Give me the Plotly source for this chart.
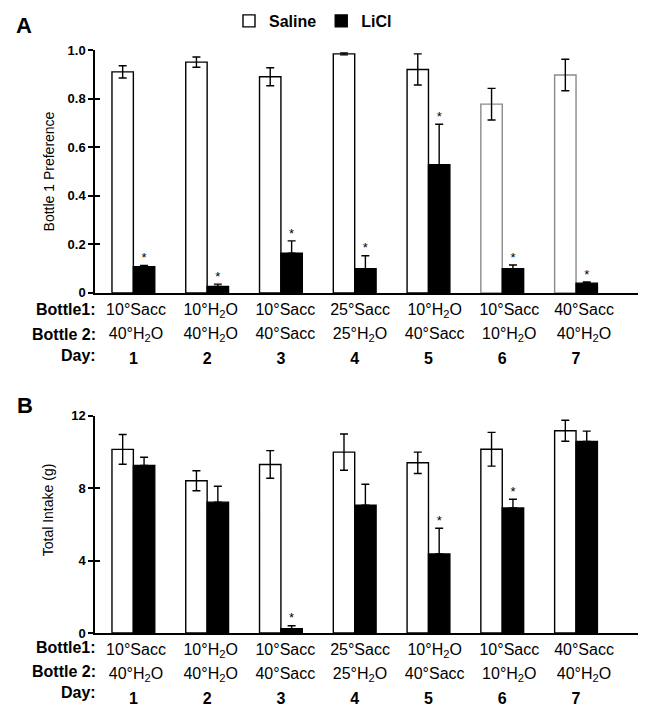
import plotly.graph_objects as go

# ---------------- data ----------------
days = ["1", "2", "3", "4", "5", "6", "7"]
bottle1 = ["10°Sacc", "10°H<sub>2</sub>O", "10°Sacc", "25°Sacc", "10°H<sub>2</sub>O", "10°Sacc", "40°Sacc"]
bottle2 = ["40°H<sub>2</sub>O", "40°H<sub>2</sub>O", "40°Sacc", "25°H<sub>2</sub>O", "40°Sacc", "10°H<sub>2</sub>O", "40°H<sub>2</sub>O"]

pref_saline = [0.91, 0.95, 0.89, 0.984, 0.92, 0.777, 0.897]
pref_saline_err = [0.025, 0.021, 0.037, 0.004, 0.064, 0.065, 0.065]
pref_licl = [0.108, 0.026, 0.163, 0.10, 0.528, 0.10, 0.04]
pref_licl_err = [0.005, 0.010, 0.051, 0.053, 0.166, 0.015, 0.005]
pref_sig = [True, True, True, True, True, True, True]

intake_saline = [10.13, 8.40, 9.30, 9.98, 9.39, 10.14, 11.16]
intake_saline_err = [0.82, 0.55, 0.76, 1.00, 0.59, 0.93, 0.58]
intake_licl = [9.24, 7.22, 0.24, 7.05, 4.36, 6.90, 10.57]
intake_licl_err = [0.46, 0.88, 0.16, 1.16, 1.42, 0.48, 0.57]
intake_sig = [False, False, True, False, True, True, False]

pref_ticks = [0, 0.2, 0.4, 0.6, 0.8, 1.0]
pref_ticktext = ["0", "0.2", "0.4", "0.6", "0.8", "1.0"]
intake_ticks = [0, 4, 8, 12]
intake_ticktext = ["0", "4", "8", "12"]

# ---------------- layout geometry (screen pixels) ----------------
OFF = 8  # page body margin
W, H = 651 - OFF, 717 - 2 * OFF
L, R = 95 - OFF, 638 - OFF
A_TOP, A_BOT = 50 - OFF, 293 - OFF
B_TOP, B_BOT = 415.7 - OFF, 633.3 - OFF
MB = H - B_BOT
PH = H - A_TOP - MB


def px(x):
    return (x - OFF - L) / (R - L)


def py(y):
    return (H - MB - (y - OFF)) / PH


FONT = "Liberation Sans, Arial, Helvetica, sans-serif"
BARGAP = 0.42
HALF = (1 - BARGAP) / 4  # centre offset of each bar in a pair
xs = list(range(len(days)))
XR = [-0.52, 6.84]
XR_LBL = [-0.549, 6.723]

fig = go.Figure()


def add_panel(xa, ya, sal, sal_err, lic, lic_err, sig, outline, legend):
    fig.add_trace(go.Bar(
        x=xs, y=sal, name="Saline", xaxis=xa, yaxis=ya,
        marker=dict(color="white", line=dict(color=outline, width=1.4)),
        error_y=dict(type="data", array=sal_err, color="black", thickness=1.4, width=4),
        showlegend=legend, hoverinfo="skip"))
    fig.add_trace(go.Bar(
        x=xs, y=lic, name="LiCl", xaxis=xa, yaxis=ya,
        marker=dict(color="black", line=dict(color="black", width=1.4)),
        error_y=dict(type="data", array=lic_err, arrayminus=[0] * len(lic),
                     symmetric=False, color="black", thickness=1.4, width=4),
        showlegend=legend, hoverinfo="skip"))
    sx = [i + HALF for i, s in zip(xs, sig) if s]
    sy = [v + e for v, e, s in zip(lic, lic_err, sig) if s]
    fig.add_trace(go.Scatter(
        x=sx, y=sy, mode="text", text=["*"] * len(sx), textposition="top center",
        textfont=dict(family=FONT, size=13, color="black"),
        xaxis=xa, yaxis=ya, showlegend=False, hoverinfo="skip"))


add_panel("x", "y", pref_saline, pref_saline_err, pref_licl, pref_licl_err, pref_sig,
          ["black"] * 5 + ["#8a8a8a"] * 2, True)
add_panel("x2", "y2", intake_saline, intake_saline_err, intake_licl, intake_licl_err,
          intake_sig, ["black"] * 7, False)

# dummy traces so overlay axes get drawn
for xa, ya in [("x3", "y"), ("x4", "y"), ("x5", "y2"), ("x6", "y2"), ("x", "y3"), ("x2", "y4")]:
    fig.add_trace(go.Scatter(x=[None], y=[None], xaxis=xa, yaxis=ya, showlegend=False,
                             hoverinfo="skip", mode="markers"))

dom_a = [py(A_BOT + OFF), py(A_TOP + OFF)]
dom_b = [py(B_BOT + OFF), py(B_TOP + OFF)]

lbl_font = dict(family=FONT, size=16, color="black")
day_font = dict(family=FONT, size=16, color="black", weight="bold")
tick_font = dict(family=FONT, size=13, color="black", weight="bold")

STANDOFF_DAY = 50
STANDOFF_B1 = 5
STANDOFF_B2 = 29


def xmain(anchor):
    return dict(domain=[0, 1], anchor=anchor, range=XR, tickmode="array", tickvals=xs,
                ticktext=days, tickfont=day_font, ticks="", showline=True,
                linecolor="black", linewidth=1.5, showgrid=False, zeroline=False,
                ticklabelstandoff=STANDOFF_DAY, fixedrange=True)


def xlabel(over, anchor, txt, standoff):
    return dict(domain=[0, 1], anchor=anchor, overlaying=over, side="bottom", range=XR_LBL,
                tickmode="array", tickvals=xs, ticktext=txt, tickfont=lbl_font, ticks="",
                showline=False, showgrid=False, zeroline=False,
                ticklabelstandoff=standoff, fixedrange=True)


def ymain(anchor, dom, rng, tv, tt):
    return dict(domain=dom, anchor=anchor, range=rng, tickmode="array", tickvals=tv,
                ticktext=tt, tickfont=tick_font, ticks="outside", ticklen=5, tickwidth=1.5,
                tickcolor="black", showline=True, linecolor="black", linewidth=1.5,
                showgrid=False, zeroline=False, fixedrange=True)


def yinside(over, anchor, dom, rng, tv):
    return dict(domain=dom, anchor=anchor, overlaying=over, range=rng, tickmode="array",
                tickvals=tv, ticks="inside", ticklen=5, tickwidth=1.5, tickcolor="black",
                showticklabels=False, showline=False, showgrid=False, zeroline=False,
                fixedrange=True)


annotations = []


def ann(text, x, y, size=16, bold=False, angle=0, xanchor="center"):
    annotations.append(dict(
        text=text, x=px(x), y=py(y), xref="paper", yref="paper", showarrow=False,
        xanchor=xanchor, yanchor="middle", textangle=angle,
        font=dict(family=FONT, size=size, color="black", weight="bold" if bold else "normal")))


ann("A", 24, 25, size=22, bold=True)
ann("B", 25, 405.5, size=22, bold=True)
ann("Bottle 1 Preference", 49, 171.5, size=14, angle=-90)
ann("Total Intake (g)", 47.5, 510, size=14, angle=-90)
for y1, y2, y3 in [(310, 334.3, 356), (647.7, 671.7, 693.3)]:
    ann("Bottle1:", 98, y1, bold=True, xanchor="right")
    ann("Bottle 2:", 98, y2, bold=True, xanchor="right")
    ann("Day:", 98, y3, bold=True, xanchor="right")

fig.update_layout(
    width=W, height=H,
    margin=dict(l=L, r=W - R, t=A_TOP, b=MB, autoexpand=False),
    paper_bgcolor="white", plot_bgcolor="white",
    barmode="group", bargap=BARGAP, bargroupgap=0,
    font=dict(family=FONT, color="black"),
    xaxis=xmain("y"),
    xaxis2=xmain("y2"),
    xaxis3=xlabel("x", "y", bottle1, STANDOFF_B1),
    xaxis4=xlabel("x", "y", bottle2, STANDOFF_B2),
    xaxis5=xlabel("x2", "y2", bottle1, STANDOFF_B1),
    xaxis6=xlabel("x2", "y2", bottle2, STANDOFF_B2),
    yaxis=ymain("x", dom_a, [0, 1], pref_ticks, pref_ticktext),
    yaxis2=ymain("x2", dom_b, [0, 12], intake_ticks, intake_ticktext),
    yaxis3=yinside("y", "x", dom_a, [0, 1], pref_ticks),
    yaxis4=yinside("y2", "x2", dom_b, [0, 12], intake_ticks),
    legend=dict(orientation="h", x=px(229), y=py(21), xanchor="left", yanchor="middle",
                font=dict(family=FONT, size=16, color="black", weight="bold"),
                bgcolor="rgba(0,0,0,0)", borderwidth=0, traceorder="normal"),
    annotations=annotations,
    showlegend=True,
)

fig.write_html("out.html")
